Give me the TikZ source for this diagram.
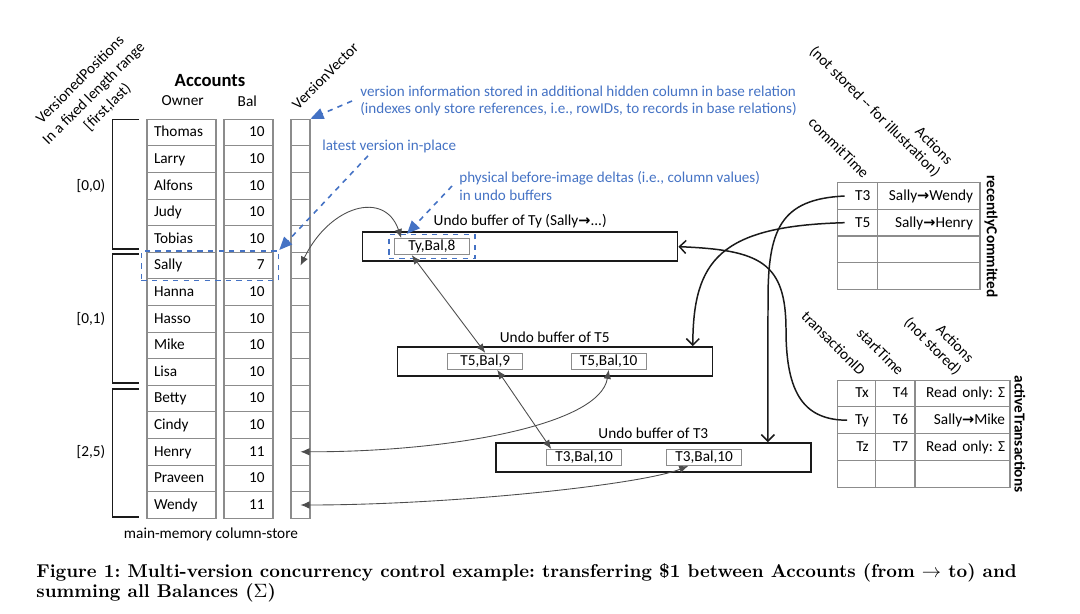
\documentclass[tikz,border=0pt]{standalone}
\usepackage{fontspec}
\newfontfamily\calibri{Carlito}
\newfontfamily\dejavu[Scale=0.95]{DejaVu Sans}
\usepackage{tikz}
\usetikzlibrary{calc,arrows.meta,fit}
\definecolor{mvink}{HTML}{1A1A1A}
\definecolor{mvgrid}{HTML}{8C8C8C}
\definecolor{mvptr}{HTML}{4D4D4D}
\definecolor{mvblue}{HTML}{4472C4}
\newcommand{\mvto}{{\dejavu\bfseries →}}
\frenchspacing

\begin{document}
\begin{tikzpicture}[
    every node/.style={font=\calibri\fontsize{8.7}{10}\selectfont},
    owncell/.style={rectangle, draw=mvgrid, line width=0.6pt, text width=1.10cm,
                    inner xsep=0.14cm, inner ysep=0pt, minimum height=0.532cm,
                    text height=1.6ex, text depth=0.45ex, align=left},
    balcell/.style={owncell, text width=0.64cm, inner xsep=0.17cm, align=right},
    vvcell/.style={rectangle, draw=mvgrid, line width=0.6pt, minimum width=0.38cm,
                   minimum height=0.532cm, inner sep=0pt},
    tcell/.style={rectangle, draw=mvgrid, line width=0.6pt, inner xsep=0.14cm, inner ysep=0pt,
                  minimum height=0.534cm, text height=1.6ex, text depth=0.45ex, align=right},
    buffer/.style={rectangle, draw=mvink, line width=0.8pt, fill=white,
                   minimum width=6.30cm, minimum height=0.58cm},
    entry/.style={rectangle, draw=mvgrid, line width=0.6pt, fill=white,
                  minimum width=1.50cm, minimum height=0.32cm, inner sep=0pt},
    buflbl/.style={anchor=south, inner sep=2pt},
    hlbox/.style={rectangle, draw=mvblue, dashed, line width=0.9pt, inner xsep=0.1cm},
    note/.style={-{Triangle[length=2.6mm, width=2.2mm]}, draw=mvblue, dashed, line width=0.9pt},
    notetxt/.style={color=mvblue, anchor=west, inner sep=0pt, align=left,
                    font=\calibri\fontsize{8.6}{10.2}\selectfont},
    ptr/.style={-{Straight Barb[length=1.3mm, width=2.6mm]}, draw=mvink, line width=0.85pt},
    vptr/.style={{Latex[length=1.8mm, width=1.5mm]}-{Latex[length=1.8mm, width=1.5mm]},
                 draw=mvptr, line width=0.5pt},
    colhead/.style={rotate=-45, anchor=east, inner sep=1pt, align=right},
    tblname/.style={font=\calibri\bfseries\fontsize{8.7}{10}\selectfont,
                    rotate=-90, anchor=south, inner sep=2pt},
    brk/.style={draw=mvink, line width=0.9pt},
    figcap/.style={anchor=west, align=left, inner sep=0pt,
                   font=\rmfamily\bfseries\fontsize{10.55}{11.6}\selectfont},
  ]
  \useasboundingbox (0,0) rectangle (21.6,-12.28);

  % accounts relation with hidden version column
  \node[font=\calibri\bfseries\fontsize{10.6}{12}\selectfont] (acct) at (4.20,-1.62) {Accounts};
  \node (ownhead) at (3.654,-2.02) {Owner};
  \node (balhead) at (4.946,-2.02) {Bal};
  \node[rotate=45, anchor=west, inner sep=1pt] (vvhead) at (5.86,-2.16) {VersionVector};
  \node[rotate=45, align=center, font=\calibri\fontsize{8.7}{11}\selectfont] (vpos) at (1.88,-1.874)
    {VersionedPositions\\In a fixed length range\\{[}first,last)};

  \foreach \who/\bal [count=\i from 0] in {Thomas/10, Larry/10, Alfons/10, Judy/10, Tobias/10,
      Sally/7, Hanna/10, Hasso/10, Mike/10, Lisa/10, Betty/10, Cindy/10, Henry/11, Praveen/10, Wendy/11}{
    \node[owncell] (own\i) at (3.63,-2.652-0.532*\i) {\who};
    \node[balcell] (bal\i) at (4.97,-2.652-0.532*\i) {\bal};
    \node[vvcell]  (vv\i)  at (6.01,-2.652-0.532*\i) {};
  }

  \draw[brk] (2.78,-2.386) -| (2.254,-4.98) -- (2.78,-4.98);
  \draw[brk] (2.78,-5.08) -| (2.254,-7.66) -- (2.78,-7.66);
  \draw[brk] (2.78,-7.78) -| (2.254,-10.34) -- (2.78,-10.34);
  \node (rng0) at (1.82,-3.72) {[0,0)};
  \node (rng1) at (1.82,-6.38) {[0,1)};
  \node (rng2) at (1.82,-9.04) {[2,5)};

  \node (mmcs) at (4.22,-10.68) {main-memory column-store};
  \node[hlbox, fit=(own5)(bal5), inner ysep=0.02cm] (sallyhl) {};

  % undo buffers
  \node[buffer] (tybuf) at (10.404,-4.933) {};
  \node[buflbl] (tylbl) at (tybuf.north) {Undo buffer of Ty (Sally\mvto...)};
  \node[entry]  (tybal) at (8.636,-4.933) {Ty,Bal,8};
  \node[hlbox, fit=(tybal), inner ysep=0.07cm] (tyhl) {};

  \node[buffer] (t5buf) at (11.096,-7.227) {};
  \node[buflbl] (t5lbl) at (t5buf.north) {Undo buffer of T5};
  \node[entry]  (t5a) at (9.704,-7.227) {T5,Bal,9};
  \node[entry]  (t5b) at (12.174,-7.227) {T5,Bal,10};

  \node[buffer] (t3buf) at (13.067,-9.147) {};
  \node[buflbl] (t3lbl) at (t3buf.north) {Undo buffer of T3};
  \node[entry]  (t3a) at (11.684,-9.15) {T3,Bal,10};
  \node[entry]  (t3b) at (14.084,-9.15) {T3,Bal,10};

  % transaction tables
  \foreach \ct/\act [count=\i from 0] in {T3/Sally\mvto Wendy, T5/Sally\mvto Henry, ~/~, ~/~}{
    \node[tcell, text width=0.512cm] (rc\i)  at (17.15,-3.9205-0.5333*\i) {\ct};
    \node[tcell, text width=1.774cm] (rca\i) at (18.573,-3.9205-0.5333*\i) {\act};
  }
  \node[tblname] (rcname) at (rca1.south east) {recentlyCommitted};
  \node[colhead] (cthead) at (17.36,-3.54) {commitTime};
  \node[colhead] (rcahead) at (18.90,-3.40) {Actions\\(not stored -- for illustration)};

  \foreach \tx/\stt/\act [count=\i from 0] in {Tx/T4/Read only: Σ, Ty/T6/Sally\mvto Mike,
      Tz/T7/Read only: Σ, ~/~/~}{
    \node[tcell, text width=0.48cm]  (tid\i)  at (17.134,-7.868-0.5365*\i) {\tx};
    \node[tcell, text width=0.506cm] (tst\i)  at (17.907,-7.868-0.5365*\i) {\stt};
    \node[tcell, text width=1.70cm, inner xsep=0.10cm] (tact\i) at (19.25,-7.868-0.5365*\i) {\act};
  }
  \node[tblname] (atname) at (tact1.south east) {activeTransactions};
  \node[colhead] (tidhead) at (17.29,-7.48) {transactionID};
  \node[colhead] (sthead) at (18.06,-7.48) {startTime};
  \node[colhead] (acthead) at (19.32,-7.36) {Actions\\(not stored)};

  % annotations
  \node[notetxt] (vinfo) at (7.20,-2.02)
    {version information stored in additional hidden column in base relation\\(indexes only store references, i.e., rowIDs, to records in base relations)};
  \node[notetxt] (latest) at (6.44,-2.92) {latest version in-place};
  \node[notetxt] (phys) at (9.18,-3.72)
    {physical before-image deltas (i.e., column values)\\in undo buffers};

  \draw[note] ([xshift=-0.16cm]vinfo.west) -- (vv0.north east);
  \draw[note] ($(latest.south west)+(0.92,-0.06)$) -- (sallyhl.north east);
  \draw[note] ([xshift=-0.14cm]phys.west) -- ([xshift=0.38cm]tyhl.north west);

  % version chains
  \draw[vptr] (vv5.center) .. controls (6.60,-4.10) and (7.70,-3.80) .. ([xshift=0.15cm]tybal.north west);
  \draw[vptr] ([xshift=-0.40cm]tybal.south) -- (t5a.north);
  \draw[vptr] ([xshift=0.24cm]t5a.south) -- ([xshift=-0.66cm]t3a.north);
  \draw[vptr] (t5b.south) .. controls (12.00,-8.50) and (9.00,-9.04) .. (vv12.center);
  \draw[vptr] ([xshift=-0.32cm]t3b.south) .. controls (12.80,-9.70) and (9.00,-10.10) .. (vv14.center);

  % transactions to their undo buffers
  \draw[ptr] ([xshift=0.2cm]tid1.west) .. controls (16.10,-8.40) and (15.72,-7.90) .. (15.72,-6.60)
    .. controls (15.72,-5.24) and (15.20,-5.00) .. (tybuf.east);
  \draw[ptr] ([xshift=0.15cm]rc1.west) .. controls (14.40,-4.52) and (13.86,-5.20) .. ([xshift=2.76cm]t5buf.north);
  \draw[ptr] ([xshift=0.15cm]rc0.west) .. controls (15.60,-3.98) and (15.36,-4.60) .. (15.36,-6.0)
    -- ([xshift=2.29cm]t3buf.north);

  \node[figcap] (cap) at (0.72,-11.66)
    {Figure 1: Multi-version concurrency control example: transferring \$1 between Accounts (from $\rightarrow$ to) and\\summing all Balances ($\Sigma$)};
\end{tikzpicture}
\end{document}
